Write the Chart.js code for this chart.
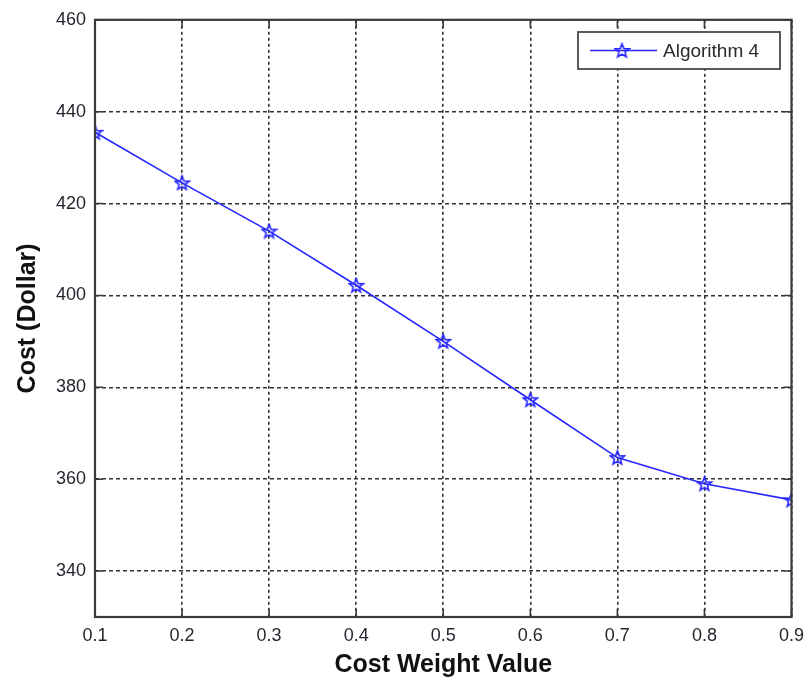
<!DOCTYPE html>
<html>
<head>
<meta charset="utf-8">
<script src="https://cdn.jsdelivr.net/npm/chart.js@4/dist/chart.umd.min.js"></script>
<style>
  html, body { margin: 0; padding: 0; background: #ffffff; }
  #wrap { width: 812px; height: 685px; position: relative; }
</style>
</head>
<body>
<div id="wrap"><canvas id="c" width="812" height="685"></canvas></div>
<script>
// Cost against the cost weight value
const weights = [0.1, 0.2, 0.3, 0.4, 0.5, 0.6, 0.7, 0.8, 0.9];
const costAlgorithm4 = [435.5, 424.5, 414.0, 402.2, 390.0, 377.3, 364.7, 359.0, 355.5];
const xTicks = [0.1, 0.2, 0.3, 0.4, 0.5, 0.6, 0.7, 0.8, 0.9];
const xTickLabels = ['0.1', '0.2', '0.3', '0.4', '0.5', '0.6', '0.7', '0.8', '0.9'];
const yTicks = [340, 360, 380, 400, 420, 440, 460];
const yTickLabels = ['340', '360', '380', '400', '420', '440', '460'];
const seriesName = 'Algorithm 4';

const BLUE = 'rgb(40,40,255)';
const FONT = "'Liberation Sans', Arial, sans-serif";

// Five-pointed star outline used as the marker
function makeStar(size) {
  const cv = document.createElement('canvas');
  cv.width = size; cv.height = size;
  const g = cv.getContext('2d');
  const cx = size / 2, cy = size / 2 + 0.6;
  const R = size / 2 - 1.2, r = R * 0.42;
  g.beginPath();
  for (let i = 0; i < 10; i++) {
    const rad = i % 2 === 0 ? R : r;
    const a = -Math.PI / 2 + i * Math.PI / 5;
    const px = cx + rad * Math.cos(a), py = cy + rad * Math.sin(a);
    if (i === 0) g.moveTo(px, py); else g.lineTo(px, py);
  }
  g.closePath();
  g.strokeStyle = BLUE;
  g.lineWidth = 1.6;
  g.stroke();
  return cv;
}
const starMarker = makeStar(17);

// Solid axes box, inward tick marks and the in-plot legend
const framePlugin = {
  id: 'frame',
  afterDatasetsDraw(chart) {
    const { ctx, chartArea: a, scales } = chart;
    ctx.save();
    ctx.strokeStyle = '#3a3a3a';
    ctx.lineWidth = 1.6;
    const tl = 8;
    ctx.beginPath();
    xTicks.forEach(v => {
      const px = scales.x.getPixelForValue(v);
      ctx.moveTo(px, a.bottom); ctx.lineTo(px, a.bottom - tl);
      ctx.moveTo(px, a.top); ctx.lineTo(px, a.top + tl);
    });
    yTicks.forEach(v => {
      const py = scales.y.getPixelForValue(v);
      ctx.moveTo(a.left, py); ctx.lineTo(a.left + tl, py);
      ctx.moveTo(a.right, py); ctx.lineTo(a.right - tl, py);
    });
    ctx.stroke();
    ctx.lineWidth = 2.2;
    ctx.strokeRect(a.left, a.top, a.right - a.left, a.bottom - a.top);

    // legend
    const lx = 578, ly = 32, lw = 202, lh = 37;
    ctx.fillStyle = '#ffffff';
    ctx.fillRect(lx, ly, lw, lh);
    ctx.strokeStyle = '#4a4a4a';
    ctx.lineWidth = 1.8;
    ctx.strokeRect(lx, ly, lw, lh);
    const my = ly + lh / 2;
    ctx.strokeStyle = BLUE;
    ctx.lineWidth = 1.7;
    ctx.beginPath();
    ctx.moveTo(590, my); ctx.lineTo(657, my);
    ctx.stroke();
    ctx.drawImage(starMarker, 622 - starMarker.width / 2, my - starMarker.height / 2);
    ctx.fillStyle = '#2a2a2a';
    ctx.font = '19px ' + FONT;
    ctx.textBaseline = 'middle';
    ctx.textAlign = 'left';
    ctx.fillText(seriesName, 663, my + 1);
    ctx.restore();
  }
};

new Chart(document.getElementById('c'), {
  type: 'line',
  data: {
    datasets: [{
      label: seriesName,
      data: weights.map((w, i) => ({ x: w, y: costAlgorithm4[i] })),
      borderColor: BLUE,
      borderWidth: 1.7,
      pointStyle: starMarker,
      pointRadius: 8,
      tension: 0,
      fill: false
    }]
  },
  options: {
    responsive: false,
    animation: false,
    layout: { padding: { left: 0, top: 17, right: 17, bottom: 0 } },
    plugins: { legend: { display: false }, tooltip: { enabled: false } },
    scales: {
      x: {
        type: 'linear',
        min: 0.1,
        max: 0.9,
        afterBuildTicks(scale) { scale.ticks = xTicks.map(v => ({ value: v })); },
        afterFit(scale) { scale.height = 68; },
        ticks: {
          autoSkip: false,
          maxRotation: 0,
          padding: 8,
          color: '#262630',
          font: { family: FONT, size: 18 },
          callback(value) {
            const i = xTicks.findIndex(t => Math.abs(t - value) < 1e-9);
            return i >= 0 ? xTickLabels[i] : '';
          }
        },
        grid: { color: '#333333', lineWidth: 1.6, drawTicks: false },
        border: { display: false, dash: [3, 3] },
        title: {
          display: true,
          text: 'Cost Weight Value',
          color: '#111111',
          font: { family: FONT, size: 25, weight: 'bold' },
          padding: { top: 0, bottom: 5 }
        }
      },
      y: {
        min: 330,
        max: 460,
        afterBuildTicks(scale) { scale.ticks = yTicks.map(v => ({ value: v })); },
        afterFit(scale) { scale.width = 95; },
        ticks: {
          padding: 9,
          color: '#262630',
          font: { family: FONT, size: 18 },
          callback(value) {
            const i = yTicks.indexOf(value);
            return i >= 0 ? yTickLabels[i] : '';
          }
        },
        grid: { color: '#333333', lineWidth: 1.6, drawTicks: false },
        border: { display: false, dash: [4, 3] },
        title: {
          display: true,
          text: 'Cost (Dollar)',
          color: '#111111',
          font: { family: FONT, size: 25, weight: 'bold' },
          padding: { top: 13, bottom: 0 }
        }
      }
    }
  },
  plugins: [framePlugin]
});
</script>
</body>
</html>
